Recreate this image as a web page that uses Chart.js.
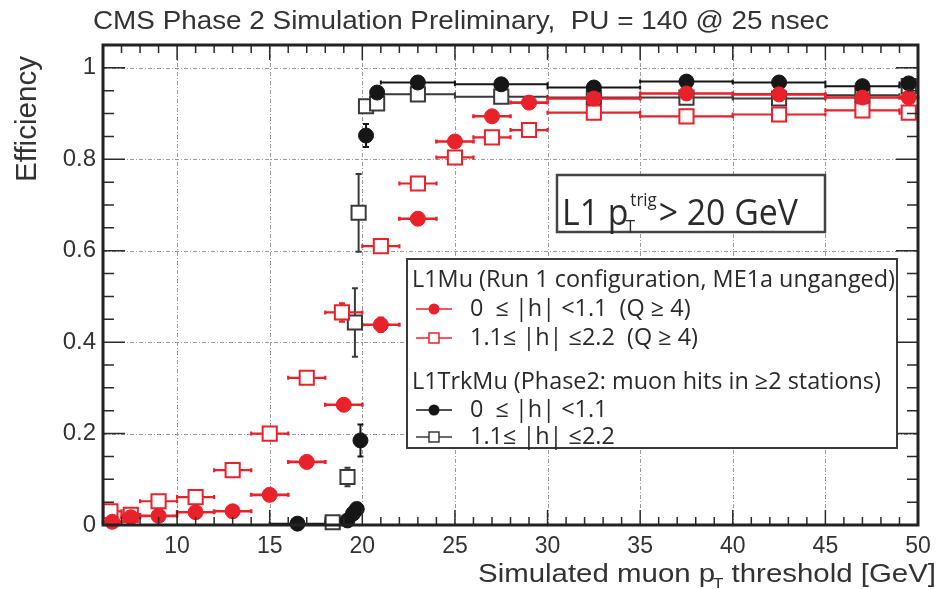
<!DOCTYPE html>
<html>
<head>
<meta charset="utf-8">
<script src="https://cdn.jsdelivr.net/npm/chart.js@4.4.0/dist/chart.umd.min.js"></script>
<style>
  html, body { margin: 0; padding: 0; background: #fff; }
</style>
</head>
<body>
<canvas id="myChart" width="941" height="589"></canvas>
<script>
// tick labels
const xTicks = [10, 15, 20, 25, 30, 35, 40, 45, 50];
const yTicks = [0, 0.2, 0.4, 0.6, 0.8, 1];

// L1Mu, 0 <= |h| < 1.1 (red filled circles)
const muCenX  = [6.5, 7.5, 9, 11, 13, 15, 17, 19, 21, 23, 25, 27, 29, 32.5, 37.5, 42.5, 47, 49.5];
const muCenLo = [6, 7, 8, 10, 12, 14, 16, 18, 20, 22, 24, 26, 28, 30, 35, 40, 45, 49];
const muCenHi = [7, 8, 10, 12, 14, 16, 18, 20, 22, 24, 26, 28, 30, 35, 40, 45, 49, 50];
const muCenY  = [0.007, 0.017, 0.02, 0.028, 0.03, 0.066, 0.138, 0.263, 0.438, 0.67, 0.839, 0.894, 0.924, 0.933, 0.944, 0.942, 0.935, 0.935];
const muCenErr = [0.003, 0.004, 0.004, 0.005, 0.005, 0.006, 0.008, 0.01, 0.015, 0.012, 0.01, 0.008, 0.006, 0.004, 0.004, 0.004, 0.004, 0.006];

// L1Mu, 1.1 <= |h| <= 2.2 (red open squares)
const muFwdX  = [6.4, 7.5, 9, 11, 13, 15, 17, 18.9, 21, 23, 25, 27, 29, 32.5, 37.5, 42.5, 47, 49.5];
const muFwdLo = [6, 7, 8, 10, 12, 14, 16, 18, 20, 22, 24, 26, 28, 30, 35, 40, 45, 49];
const muFwdHi = [7, 8, 10, 12, 14, 16, 18, 20, 22, 24, 26, 28, 30, 35, 40, 45, 49, 50];
const muFwdY  = [0.03, 0.022, 0.052, 0.061, 0.12, 0.2, 0.322, 0.465, 0.61, 0.747, 0.804, 0.848, 0.864, 0.902, 0.894, 0.898, 0.907, 0.902];
const muFwdErr = [0.004, 0.004, 0.005, 0.005, 0.007, 0.008, 0.01, 0.02, 0.012, 0.01, 0.009, 0.008, 0.007, 0.004, 0.004, 0.004, 0.005, 0.006];

// L1TrkMu, 0 <= |h| < 1.1 (black filled circles)
const trkCenX  = [16.5, 19.2, 19.5, 19.7, 19.9, 20.2, 20.8, 23, 27.5, 32.5, 37.5, 42.5, 47, 49.5];
const trkCenLo = [15, 19, 19.4, 19.6, 19.8, 20, 20.5, 21, 25, 30, 35, 40, 45, 49];
const trkCenHi = [18, 19.4, 19.6, 19.8, 20, 20.5, 21, 25, 30, 35, 40, 45, 49, 50];
const trkCenY  = [0.003, 0.01, 0.025, 0.035, 0.185, 0.852, 0.946, 0.968, 0.964, 0.957, 0.97, 0.968, 0.96, 0.966];
const trkCenErr = [0.002, 0.005, 0.008, 0.01, 0.035, 0.025, 0.01, 0.005, 0.005, 0.005, 0.005, 0.005, 0.005, 0.005];

// L1TrkMu, 1.1 <= |h| <= 2.2 (black open squares)
const trkFwdX  = [18.4, 19.2, 19.6, 19.8, 20.2, 20.8, 23, 27.5, 32.5, 37.5, 42.5, 47, 49.5];
const trkFwdLo = [18, 19, 19.4, 19.7, 20, 20.5, 21, 25, 30, 35, 40, 45, 49];
const trkFwdHi = [19, 19.4, 19.7, 20, 20.5, 21, 25, 30, 35, 40, 45, 49, 50];
const trkFwdY  = [0.006, 0.105, 0.443, 0.683, 0.916, 0.922, 0.942, 0.937, 0.935, 0.935, 0.933, 0.94, 0.96];
const trkFwdErr = [0.004, 0.02, 0.075, 0.085, 0.012, 0.01, 0.005, 0.005, 0.005, 0.005, 0.005, 0.005, 0.005];

const RED = "#e8212b";
const BLACK = "#161616";
const GRAY = "#3a3a3a";

const toPoints = (xs, ys) => xs.map((x, i) => ({ x: x, y: ys[i] }));

const errSeries = [
  { x: trkFwdX, lo: trkFwdLo, hi: trkFwdHi, y: trkFwdY, err: trkFwdErr, color: GRAY, width: 2 },
  { x: trkCenX, lo: trkCenLo, hi: trkCenHi, y: trkCenY, err: trkCenErr, color: BLACK, width: 2 },
  { x: muFwdX, lo: muFwdLo, hi: muFwdHi, y: muFwdY, err: muFwdErr, color: RED, width: 2.2 },
  { x: muCenX, lo: muCenLo, hi: muCenHi, y: muCenY, err: muCenErr, color: RED, width: 2.6 },
];

// draws a string squeezed/stretched to a given width
function fitText(ctx, txt, x, y, w, font) {
  ctx.font = font;
  const m = ctx.measureText(txt).width;
  ctx.save();
  ctx.translate(x, y);
  ctx.scale(w / m, 1);
  ctx.fillText(txt, 0, 0);
  ctx.restore();
}

const gridPlugin = {
  id: "gridPlugin",
  beforeDatasetsDraw(chart) {
    const { ctx, chartArea: a, scales } = chart;
    ctx.save();
    ctx.strokeStyle = "#9a9a9a";
    ctx.lineWidth = 1;
    ctx.setLineDash([4, 2, 1, 2]);
    xTicks.slice(0, -1).forEach((v) => {
      const px = Math.round(scales.x.getPixelForValue(v)) + 0.5;
      ctx.beginPath(); ctx.moveTo(px, a.top); ctx.lineTo(px, a.bottom); ctx.stroke();
    });
    yTicks.slice(1).forEach((v) => {
      const py = Math.round(scales.y.getPixelForValue(v)) + 0.5;
      ctx.beginPath(); ctx.moveTo(a.left, py); ctx.lineTo(a.right, py); ctx.stroke();
    });
    ctx.restore();

    // error bars
    ctx.save();
    errSeries.forEach((s) => {
      ctx.strokeStyle = s.color;
      ctx.lineWidth = s.width;
      s.x.forEach((x, i) => {
        const py = scales.y.getPixelForValue(s.y[i]);
        const x1 = scales.x.getPixelForValue(s.lo[i]);
        const x2 = scales.x.getPixelForValue(s.hi[i]);
        const px = scales.x.getPixelForValue(x);
        ctx.beginPath();
        ctx.moveTo(x1, py); ctx.lineTo(x2, py);
        ctx.moveTo(x1, py - 2); ctx.lineTo(x1, py + 2);
        ctx.moveTo(x2, py - 2); ctx.lineTo(x2, py + 2);
        if (s.err[i] > 0) {
          const y1 = scales.y.getPixelForValue(s.y[i] - s.err[i]);
          const y2 = scales.y.getPixelForValue(s.y[i] + s.err[i]);
          ctx.moveTo(px, y1); ctx.lineTo(px, y2);
          ctx.moveTo(px - 3, y1); ctx.lineTo(px + 3, y1);
          ctx.moveTo(px - 3, y2); ctx.lineTo(px + 3, y2);
        }
        ctx.stroke();
      });
    });
    ctx.restore();
  },
};

const framePlugin = {
  id: "framePlugin",
  afterDatasetsDraw(chart) {
    const { ctx, chartArea: a, scales } = chart;
    ctx.save();
    ctx.strokeStyle = "#2a2a2a";
    ctx.lineWidth = 1.5;
    ctx.beginPath();
    for (let v = 6; v <= 50; v++) {
      const px = scales.x.getPixelForValue(v);
      const len = v % 5 === 0 ? 15 : 8;
      ctx.moveTo(px, a.bottom); ctx.lineTo(px, a.bottom - len);
      ctx.moveTo(px, a.top); ctx.lineTo(px, a.top + len);
    }
    for (let k = 0; k <= 21; k++) {
      const py = scales.y.getPixelForValue(k * 0.05);
      const len = k % 4 === 0 ? 22 : 11;
      ctx.moveTo(a.left, py); ctx.lineTo(a.left + len, py);
      ctx.moveTo(a.right, py); ctx.lineTo(a.right - len, py);
    }
    ctx.stroke();
    ctx.lineWidth = 3;
    ctx.strokeStyle = "#222";
    ctx.strokeRect(a.left, a.top, a.right - a.left, a.bottom - a.top);
    ctx.restore();
  },
  afterDraw(chart) {
    const { ctx } = chart;
    ctx.save();
    ctx.fillStyle = "#333";
    ctx.textBaseline = "middle";
    ctx.textAlign = "left";

    // title
    fitText(ctx, "CMS Phase 2 Simulation Preliminary,  PU = 140 @ 25 nsec", 93, 22, 736, "26px 'Liberation Sans'");

    // y title
    ctx.save();
    ctx.translate(28, 182);
    ctx.rotate(-Math.PI / 2);
    fitText(ctx, "Efficiency", 0, 0, 126, "29px 'Liberation Sans'");
    ctx.restore();

    // x title with subscript
    const xFont = "26px 'Liberation Sans'";
    ctx.font = xFont;
    const partA = "Simulated muon p", partB = "  threshold [GeV]";
    const wA = ctx.measureText(partA).width;
    const wB = ctx.measureText(partB).width;
    const k = 458 / (wA + wB);
    ctx.save();
    ctx.translate(478, 575);
    ctx.scale(k, 1);
    ctx.fillText(partA, 0, 0);
    ctx.font = "15px 'Liberation Sans'";
    ctx.fillText("T", wA - 2, 9);
    ctx.font = xFont;
    ctx.fillText(partB, wA, 0);
    ctx.restore();

    // threshold box
    ctx.fillStyle = "#fff";
    ctx.fillRect(557, 175, 268, 57);
    ctx.strokeStyle = "#444";
    ctx.lineWidth = 2.5;
    ctx.strokeRect(557, 175, 268, 57);
    ctx.fillStyle = "#2a2a2a";
    ctx.textBaseline = "alphabetic";
    const bigFont = "36px 'Open Sans'";
    ctx.font = bigFont;
    const s1 = "L1 p", s2 = "> 20 GeV";
    const w1 = ctx.measureText(s1).width;
    ctx.font = "18px 'Open Sans'";
    const wSup = ctx.measureText("trig").width;
    ctx.font = bigFont;
    const w2 = ctx.measureText(s2).width;
    const kk = 236 / (w1 + wSup + 4 + w2);
    ctx.save();
    ctx.translate(562, 225);
    ctx.scale(kk, 1);
    ctx.fillText(s1, 0, 0);
    ctx.font = "18px 'Open Sans'";
    ctx.fillText("trig", w1 + 2, -19);
    ctx.fillText("T", w1 - 3, 8);
    ctx.font = bigFont;
    ctx.fillText(s2, w1 + wSup + 4, 0);
    ctx.restore();

    // legend
    ctx.fillStyle = "#fff";
    ctx.fillRect(407, 259, 490, 189);
    ctx.strokeStyle = "#3a3a3a";
    ctx.lineWidth = 2;
    ctx.strokeRect(407, 259, 490, 189);
    ctx.textBaseline = "middle";
    ctx.fillStyle = "#2a2a2a";
    const head1 = "L1Mu (Run 1 configuration, ME1a unganged)";
    ctx.font = "20px 'Open Sans'";
    const lsize = 20 * 483 / ctx.measureText(head1).width;
    const lFont = lsize.toFixed(2) + "px 'Open Sans'";
    ctx.font = lFont;
    ctx.fillText(head1, 412, 280);
    ctx.fillText("L1TrkMu (Phase2: muon hits in \u22652 stations)", 412, 382);
    const rows = [
      { y: 309, txt: "0  \u2264 |h| <1.1  (Q \u2265 4)", color: RED, fill: true },
      { y: 338, txt: "1.1\u2264 |h| \u22642.2  (Q \u2265 4)", color: RED, fill: false },
      { y: 410, txt: "0  \u2264 |h| <1.1", color: BLACK, fill: true },
      { y: 437, txt: "1.1\u2264 |h| \u22642.2", color: GRAY, fill: false },
    ];
    rows.forEach((r) => {
      ctx.strokeStyle = r.color;
      ctx.lineWidth = 1.5;
      ctx.beginPath(); ctx.moveTo(416, r.y); ctx.lineTo(452, r.y); ctx.stroke();
      if (r.fill) {
        ctx.fillStyle = r.color;
        ctx.beginPath(); ctx.arc(434, r.y, 5.5, 0, Math.PI * 2); ctx.fill();
      } else {
        ctx.fillStyle = "#fff";
        ctx.fillRect(429, r.y - 5, 10, 10);
        ctx.strokeRect(429, r.y - 5, 10, 10);
      }
      ctx.fillStyle = "#2a2a2a";
      ctx.fillText(r.txt, 470, r.y);
    });
    ctx.restore();
  },
};

new Chart(document.getElementById("myChart").getContext("2d"), {
  type: "scatter",
  data: {
    datasets: [
      { label: "L1Mu 0<|h|<1.1", data: toPoints(muCenX, muCenY), pointStyle: "circle", pointRadius: 7.5,
        backgroundColor: RED, borderColor: RED, borderWidth: 1, clip: false },
      { label: "L1Mu 1.1<|h|<2.2", data: toPoints(muFwdX, muFwdY), pointStyle: "rect", pointRadius: 10,
        backgroundColor: "#fff", borderColor: RED, borderWidth: 2, clip: false },
      { label: "L1TrkMu 0<|h|<1.1", data: toPoints(trkCenX, trkCenY), pointStyle: "circle", pointRadius: 7.5,
        backgroundColor: BLACK, borderColor: BLACK, borderWidth: 1, clip: false },
      { label: "L1TrkMu 1.1<|h|<2.2", data: toPoints(trkFwdX, trkFwdY), pointStyle: "rect", pointRadius: 10,
        backgroundColor: "#fff", borderColor: GRAY, borderWidth: 2, clip: false },
    ],
  },
  options: {
    responsive: false,
    animation: false,
    devicePixelRatio: 1,
    events: [],
    layout: { padding: { top: 45, right: 23, left: 0, bottom: 0 } },
    plugins: { legend: { display: false }, tooltip: { enabled: false }, title: { display: false } },
    scales: {
      x: {
        type: "linear",
        min: 6,
        max: 50,
        afterFit: (s) => { s.height = 64; },
        afterBuildTicks: (s) => { s.ticks = xTicks.map((v) => ({ value: v })); },
        grid: { display: false, drawTicks: false },
        border: { display: false },
        ticks: { color: "#333", padding: 8, maxRotation: 0, font: { family: "Liberation Sans", size: 23 } },
      },
      y: {
        type: "linear",
        min: 0,
        max: 1.05,
        afterFit: (s) => { s.width = 103; },
        afterBuildTicks: (s) => { s.ticks = yTicks.map((v) => ({ value: v })); },
        grid: { display: false, drawTicks: false },
        border: { display: false },
        ticks: { color: "#333", padding: 7, font: { family: "Liberation Sans", size: 24 },
          callback: (v) => String(Math.round(v * 10) / 10) },
      },
    },
  },
  plugins: [gridPlugin, framePlugin],
});
</script>
</body>
</html>
